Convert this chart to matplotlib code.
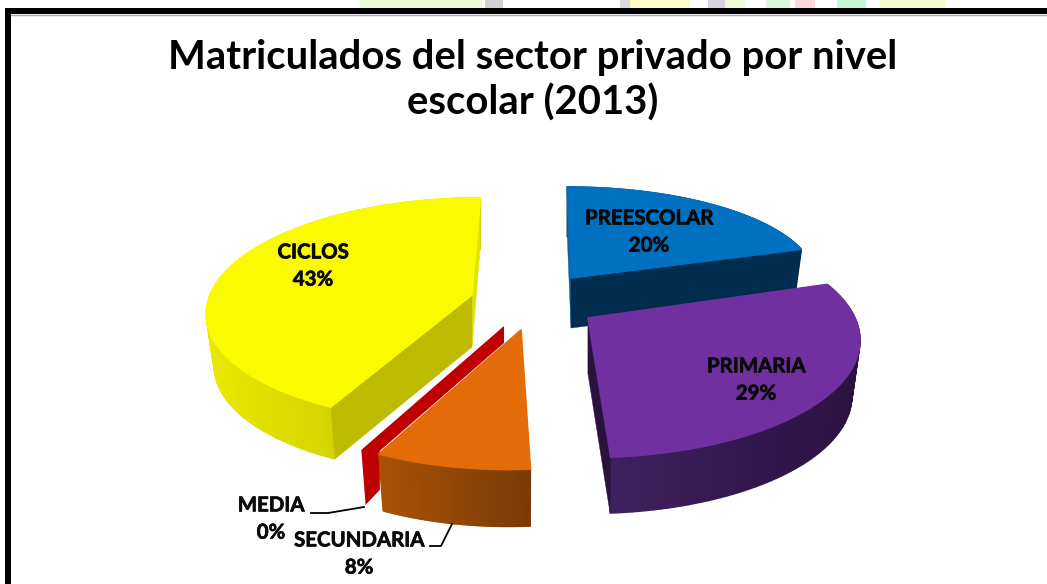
import matplotlib
matplotlib.use('Agg')
import matplotlib.pyplot as plt
import matplotlib.patheffects as pe
import numpy as np
from matplotlib.colors import to_rgb

# data
names = ['PREESCOLAR', 'PRIMARIA', 'SECUNDARIA', 'MEDIA', 'CICLOS']
shares = [19.9, 29.0, 8.0, 0.4, 42.7]
pct_labels = ['20%', '29%', '8%', '0%', '43%']

BOTTOM_SCALE = 0.97

# per slice look: apex, depth, skew, disc radii and perspective
apex = {'PREESCOLAR': (571, 278), 'PRIMARIA': (588, 318), 'SECUNDARIA': (521, 330),
        'MEDIA': (504, 326), 'CICLOS': (472, 295)}
depth = {'PREESCOLAR': 50, 'PRIMARIA': 56, 'SECUNDARIA': 57, 'MEDIA': 55, 'CICLOS': 52}
skew = {'PREESCOLAR': 0.042, 'PRIMARIA': 0.0, 'SECUNDARIA': -0.09, 'MEDIA': -0.07, 'CICLOS': -0.085}
radius_x = {'PREESCOLAR': 244, 'PRIMARIA': 267, 'SECUNDARIA': 258, 'MEDIA': 264, 'CICLOS': 262}
radius_y = {'PREESCOLAR': 91, 'PRIMARIA': 113, 'SECUNDARIA': 113, 'MEDIA': 113, 'CICLOS': 110}
persp = {'PREESCOLAR': 0.0, 'PRIMARIA': 0.19, 'SECUNDARIA': 0.19, 'MEDIA': 0.19, 'CICLOS': 0.133}

top_col = {'PREESCOLAR': '#0070C0', 'PRIMARIA': '#7030A0', 'SECUNDARIA': '#E36C09',
           'MEDIA': '#BE0000', 'CICLOS': '#FBFB00'}
# wall gradient left -> right
wall_col = {'PREESCOLAR': ('#002C4E', '#002C4E'), 'PRIMARIA': ('#3F2060', '#2A1240'),
            'SECUNDARIA': ('#A95207', '#7A3A05'), 'MEDIA': ('#BE0000', '#BE0000'),
            'CICLOS': ('#E8E800', '#BDBB00')}
cut_col = {'PREESCOLAR': ('#0B5E9C', '#002C4E'), 'PRIMARIA': ('#2A1240', '#2A1240'),
           'SECUNDARIA': ('#A95207', '#A95207'), 'MEDIA': ('#BE0000', '#BE0000'),
           'CICLOS': ('#E2E200', '#BDBB00')}

label_pos = {'PREESCOLAR': (649, 232), 'PRIMARIA': (756, 380), 'SECUNDARIA': (359, 554),
             'MEDIA': (271, 519), 'CICLOS': (313, 266)}
leaders = {'MEDIA': ([311, 328, 364], [513, 513, 507]),
           'SECUNDARIA': ([430, 441, 452], [546, 546, 524])}

# washed out banner above the frame
banner_x = [(360, 482), (485, 503), (620, 630), (630, 690), (708, 725), (725, 745),
            (766, 790), (795, 815), (837, 866), (880, 945)]
banner_c = ['#EAFBD6', '#D2D2D2', '#D9D9D9', '#FDFBC8', '#D8D2DC', '#EEFBD8',
            '#D9F5DC', '#FBD9DC', '#C8F5D8', '#F6FBCC']


def project(name, theta):
    x0, y0 = apex[name]
    X, Y = np.sin(theta), np.cos(theta)
    w = 1 + persp[name] * Y
    sy = -radius_y[name] * Y / w
    sx = radius_x[name] * X / w + skew[name] * sy
    return x0 + sx, y0 + sy


def bottom(name, px, py):
    x0, y0 = apex[name]
    return x0 + (px - x0) * BOTTOM_SCALE, py + depth[name]


def draw_wall(ax, name, thetas, z):
    c0, c1 = (np.array(to_rgb(c)) for c in wall_col[name])
    tx, ty = project(name, thetas)
    bx, by = bottom(name, tx, ty)
    lo, hi = tx.min(), tx.max()
    for i in range(len(thetas) - 1):
        f = ((tx[i] + tx[i + 1]) / 2 - lo) / max(hi - lo, 1)
        col = c0 + (c1 - c0) * f
        ax.fill([tx[i], tx[i + 1], bx[i + 1], bx[i]], [ty[i], ty[i + 1], by[i + 1], by[i]],
                color=col, lw=1.0, zorder=z)


def draw_cut(ax, name, theta, color, z):
    x0, y0 = apex[name]
    px, py = project(name, theta)
    qx, qy = bottom(name, px, py)
    ax.fill([x0, px, qx, x0], [y0, py, qy, y0 + depth[name]], color=color, lw=0.3, zorder=z)


fig = plt.figure(figsize=(10.47, 5.84), dpi=100)
ax = fig.add_axes([0, 0, 1, 1])
ax.set_xlim(0, 1047)
ax.set_ylim(584, 0)
ax.axis('off')

for (a, b), c in zip(banner_x, banner_c):
    ax.fill([a, b, b, a], [0, 0, 8, 8], color=c, lw=0, zorder=0)

# frame
ax.fill([5, 1047, 1047, 5], [8, 8, 14, 14], color='black', lw=0, zorder=1)
ax.fill([5, 11, 11, 5], [8, 8, 584, 584], color='black', lw=0, zorder=1)
ax.plot([11, 1047], [14.5, 14.5], color='#AAAAAA', lw=1, zorder=1)

ax.text(533, 80, 'Matriculados del sector privado por nivel\nescolar (2013)',
        family='Lato', weight='bold', fontsize=28.8, ha='center', va='center',
        linespacing=1.24, color='black')

# slice angles, clockwise from the top
edges = np.radians(np.cumsum([0] + shares) * 3.6)
slice_angles = {n: (edges[i], edges[i + 1]) for i, n in enumerate(names)}

order = ['PREESCOLAR', 'CICLOS', 'PRIMARIA', 'MEDIA', 'SECUNDARIA']
for k, name in enumerate(order):
    z = 10 + k * 5
    t0, t1 = slice_angles[name]
    if name == 'MEDIA':
        # only a thin strip shows, most of it sits behind SECUNDARIA
        x0, y0 = apex[name]
        px, py = project(name, t0)
        qx, qy = bottom(name, px, py)
        rx, ry = x0 + (px - x0) * 0.87, y0 + (py - y0) * 0.87
        ax.fill([x0, x0, rx, rx, qx, px], [y0, y0 + 17, ry + 17, ry + 56, qy, py],
                color=top_col[name], lw=0, zorder=z)
        continue
    thetas = np.linspace(t0, t1, 80)
    c_start, c_end = cut_col[name]
    if name == 'CICLOS':
        draw_wall(ax, name, thetas, z)
        draw_cut(ax, name, t1, c_start, z + 1)
        draw_cut(ax, name, t0, c_end, z + 2)
    elif name == 'SECUNDARIA':
        # both cuts face away here, wall goes on top of them
        draw_cut(ax, name, t0, c_start, z)
        draw_cut(ax, name, t1, c_end, z)
        draw_wall(ax, name, thetas, z + 1)
    else:
        draw_wall(ax, name, thetas, z)
        draw_cut(ax, name, t0, c_start, z + 1)
        draw_cut(ax, name, t1, c_end, z + 1)
    tx, ty = project(name, thetas)
    x0, y0 = apex[name]
    # edge in the same colour hides the wall seam behind the arc
    ax.fill(np.r_[x0, tx], np.r_[y0, ty], color=top_col[name], lw=1.2, zorder=z + 3)

for name, pct in zip(names, pct_labels):
    x, y = label_pos[name]
    t = ax.text(x, y, name + '\n' + pct, family='Lato', weight='bold', fontsize=14.7,
                ha='center', va='center', linespacing=1.45, color='#0A0A0A', zorder=50)
    t.set_path_effects([pe.withStroke(linewidth=0.5, foreground='#0A0A0A')])

for name, (lx, ly) in leaders.items():
    ax.plot(lx, ly, color='black', lw=1.3, zorder=49)

fig.savefig('out.png', dpi=100, facecolor='white')
